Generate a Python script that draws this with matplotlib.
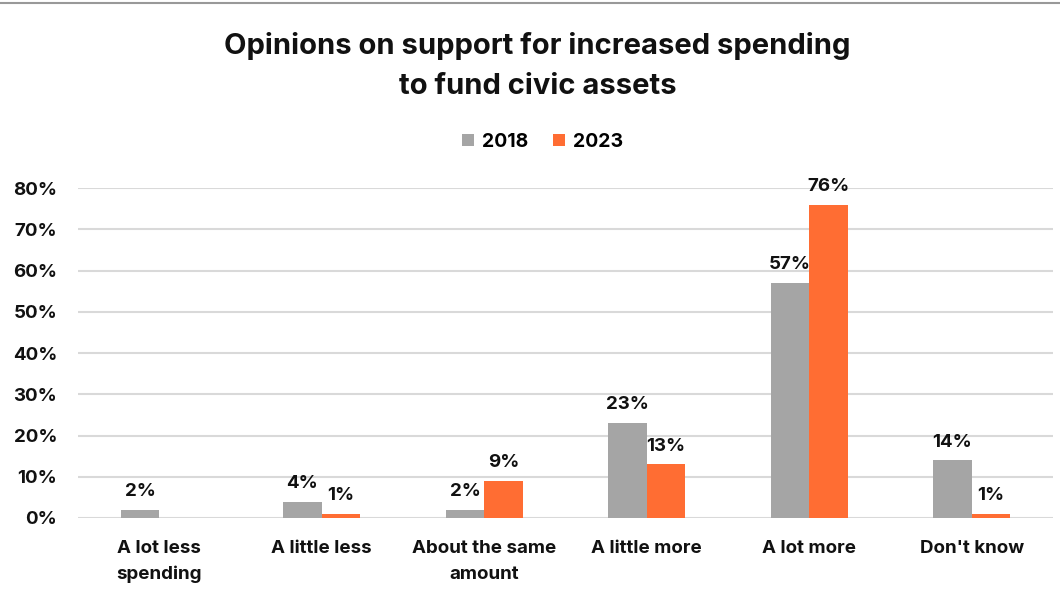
import matplotlib
matplotlib.use("Agg")
import matplotlib.pyplot as plt
from matplotlib.lines import Line2D
from matplotlib.patches import Patch
import numpy as np

plt.rcParams['font.family'] = ['Inter', 'DejaVu Sans']

categories = ["A lot less\nspending", "A little less", "About the same\namount",
              "A little more", "A lot more", "Don't know"]
years = ["2018", "2023"]
values_2018 = [2, 4, 2, 23, 57, 14]
values_2023 = [0, 1, 9, 13, 76, 1]
y_ticks = [0, 10, 20, 30, 40, 50, 60, 70, 80]

gray = "#A5A5A5"
orange = "#FF6D33"
grid_color = "#D9D9D9"
ink = "#111111"

fig = plt.figure(figsize=(10.6, 6.01), dpi=100)
ax = fig.add_axes([78 / 1060, 1 - 518 / 601, (1053 - 78) / 1060, (518 - 188) / 601])

x = np.arange(len(categories))
w = 0.237
b1 = ax.bar(x - w / 2, values_2018, w, color=gray, zorder=3)
b2 = ax.bar(x + w / 2, values_2023, w, color=orange, zorder=3)

for bars, vals in ((b1, values_2018), (b2, values_2023)):
    for rect, v in zip(bars, vals):
        if v == 0:
            continue
        ax.annotate(f"{v}%", (rect.get_x() + rect.get_width() / 2, v),
                    xytext=(0, 7), textcoords="offset points",
                    ha="center", va="bottom", fontsize=13.5, fontweight="bold",
                    color=ink, zorder=4, annotation_clip=False)

ax.set_xlim(-0.5, len(categories) - 0.5)
ax.set_ylim(0, 80)
ax.set_yticks(y_ticks)
ax.set_yticklabels([f"{t}%" for t in y_ticks])
ax.set_xticks(x)
ax.set_xticklabels(categories, linespacing=1.65)
ax.tick_params(axis="both", length=0, labelsize=13.5, labelcolor=ink)
ax.tick_params(axis="y", pad=15)
ax.tick_params(axis="x", pad=16)
for lbl in ax.get_xticklabels() + ax.get_yticklabels():
    lbl.set_fontweight("bold")
for s in ax.spines.values():
    s.set_visible(False)
ax.yaxis.grid(True, color=grid_color, linewidth=1.5, zorder=0)
ax.set_axisbelow(True)

fig.text(0.507, 1 - 66 / 601, "Opinions on support for increased spending\nto fund civic assets",
         ha="center", va="center", fontsize=21, fontweight="bold",
         color=ink, linespacing=1.65)

handles = [Patch(facecolor=gray, edgecolor="none"), Patch(facecolor=orange, edgecolor="none")]
fig.legend(handles, years, loc="center", bbox_to_anchor=(0.512, 1 - 142 / 601),
           ncol=2, frameon=False, handlelength=0.6, handleheight=0.6,
           handletextpad=0.4, columnspacing=1.3,
           prop={"weight": "bold", "size": 14})

fig.add_artist(Line2D([0, 1], [1 - 3 / 601, 1 - 3 / 601], color="#999999",
                      linewidth=1.5, transform=fig.transFigure))

fig.savefig("out.png", dpi=100, facecolor="white")
